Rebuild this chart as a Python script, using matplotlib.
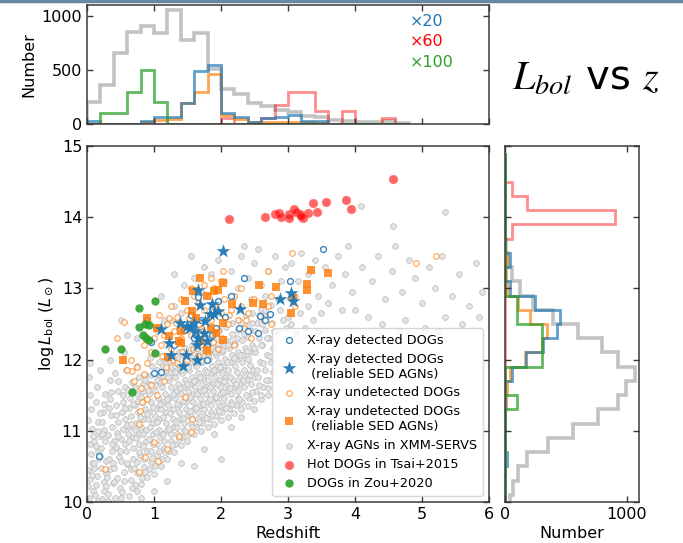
import numpy as np
import matplotlib
matplotlib.use('Agg')
import matplotlib.pyplot as plt
from matplotlib.lines import Line2D

# ---------------- data ----------------
# top histogram (redshift), bins of 0.2 from 0 to 4.8
z_edges = np.round(np.arange(0, 4.81, 0.2), 1)
zh_gray = [200, 357, 660, 850, 905, 845, 1055, 780, 840, 510, 326, 280, 192, 170, 130, 108, 77, 62, 37, 25, 16, 16, 25, 12]
zh_blue = [25, 0, 0, 0, 30, 68, 68, 190, 490, 545, 100, 68, 22, 55, 62, 87, 25, 25, 0, 0, 0, 0, 0, 0]
zh_orange = [0, 0, 0, 0, 22, 40, 50, 190, 295, 460, 80, 47, 22, 15, 15, 15, 15, 10, 0, 0, 0, 0, 0, 0]
zh_red = [0, 0, 0, 0, 0, 0, 0, 0, 0, 0, 60, 0, 0, 60, 180, 300, 300, 120, 0, 120, 0, 0, 60, 0]
zh_green = [0, 100, 100, 300, 500, 200, 0, 0, 0, 0, 0, 0, 0, 0, 0, 0, 0, 0, 0, 0, 0, 0, 0, 0]

# right histogram (log Lbol), bins of 0.2 from 9.9 to 14.9
L_edges = np.round(np.arange(9.9, 14.91, 0.2), 1)
Lh_gray = [41, 63, 110, 183, 356, 560, 766, 930, 990, 1068, 930, 795, 600, 390, 230, 123, 60, 27, 10, 0, 0, 0, 0, 0, 0]
Lh_blue = [0, 0, 0, 19, 0, 0, 0, 0, 0, 55, 172, 315, 425, 452, 246, 45, 0, 40, 0, 0, 0, 0, 0, 0, 0]
Lh_orange = [0, 0, 0, 0, 0, 0, 0, 12, 15, 40, 165, 301, 342, 205, 110, 19, 5, 16, 0, 0, 0, 0, 0, 0, 0]
Lh_red = [0, 0, 0, 0, 0, 0, 0, 0, 0, 0, 0, 0, 0, 0, 0, 0, 0, 0, 0, 60, 900, 180, 60, 0, 0]
Lh_green = [0, 0, 0, 0, 0, 0, 0, 100, 0, 0, 300, 300, 300, 100, 100, 0, 0, 0, 0, 0, 0, 0, 0, 0, 0]

# Hot DOGs in Tsai+2015
hot_z = [4.56, 2.12, 2.65, 2.80, 2.87, 2.89, 3.02, 3.02, 3.09, 3.12, 3.18, 3.22, 3.30, 3.38, 3.44, 3.57, 3.87, 3.94, 3.20]
hot_L = [14.53, 13.97, 14.00, 14.05, 14.06, 14.00, 14.04, 13.99, 14.12, 14.07, 14.04, 13.99, 14.06, 14.20, 14.07, 14.21, 14.24, 14.12, 14.02]

# DOGs in Zou+2020
zou_z = [0.27, 0.50, 0.67, 0.77, 1.01, 0.77, 0.87, 0.92, 0.84, 0.88, 0.92, 1.01]
zou_L = [12.15, 12.15, 11.55, 12.72, 12.83, 12.46, 12.50, 12.49, 12.34, 12.31, 12.28, 12.09]

# X-ray detected DOGs, reliable SED AGNs (stars)
star_z = [2.03, 1.66, 1.11, 1.23, 1.26, 1.44, 1.48, 1.64, 1.64, 1.39, 1.49, 1.59, 1.61, 1.69, 1.76, 1.86,
          1.89, 1.96, 2.28, 1.66, 1.74, 2.88, 3.04, 3.08, 1.54, 1.79, 1.83]
star_L = [13.52, 12.98, 12.43, 12.24, 12.07, 11.91, 12.07, 11.99, 12.20, 12.52, 12.47, 12.52, 12.40, 12.76, 12.54, 12.78,
          12.64, 12.68, 12.71, 12.31, 12.38, 12.85, 12.94, 12.82, 12.45, 12.26, 12.64]

# X-ray undetected DOGs, reliable SED AGNs (squares)
sq_z = [1.69, 2.03, 1.58, 1.46, 1.79, 1.89, 1.96, 1.56, 0.89, 1.05, 1.23, 1.41, 1.41, 1.21, 0.53, 1.79, 2.03,
        2.16, 2.48, 2.62, 2.56, 2.82, 3.05, 3.29, 3.29, 3.34, 3.60, 3.08, 1.62, 1.85, 1.92, 2.03, 1.37, 1.69]
sq_L = [13.15, 13.08, 12.96, 12.82, 12.90, 12.97, 12.98, 12.68, 12.59, 12.45, 12.33, 12.40, 12.24, 12.03, 12.00, 12.14, 12.27,
        12.78, 12.80, 12.78, 13.05, 13.02, 12.66, 13.06, 12.98, 13.26, 13.21, 12.87, 12.59, 12.45, 12.38, 12.52, 12.26, 12.26]

# X-ray detected DOGs (open blue circles)
det_z = [3.52, 2.35, 3.03, 2.73, 2.65, 2.58, 2.27, 2.06, 0.90, 1.10, 1.00, 0.18, 1.65, 1.96, 1.86, 1.79, 1.55, 1.70,
         1.45, 2.15, 1.92, 0.95, 1.30, 2.40, 1.60, 2.55]
det_L = [13.56, 13.15, 13.11, 12.64, 12.55, 12.61, 12.45, 12.60, 12.56, 11.82, 11.81, 10.64, 12.88, 12.83, 12.35, 12.00, 12.62, 12.55,
         12.42, 12.90, 12.45, 12.25, 12.20, 12.40, 12.30, 12.38]

# X-ray undetected DOGs (open orange circles)
und_z = [1.00, 1.05, 1.10, 1.15, 1.20, 1.25, 1.30, 1.35, 1.40, 1.45, 1.50, 1.55, 1.60, 1.65, 1.70, 1.75, 1.80, 1.85,
         1.90, 1.95, 2.00, 2.05, 2.10, 2.15, 2.20, 2.25, 2.30, 2.35, 2.40, 2.50, 2.60, 2.70, 2.75, 1.12, 1.28, 1.42,
         1.58, 1.72, 1.88, 2.02, 1.18, 1.35, 1.50, 1.65, 1.80, 1.95, 2.20, 2.45, 0.95, 0.90, 0.85, 1.55, 1.75, 2.00,
         1.40, 1.25, 2.30, 1.90, 1.60, 0.60, 0.70, 0.80, 0.90, 0.95, 1.05, 1.15, 0.85, 0.75, 0.65, 0.55, 0.45, 0.67,
         0.78, 0.79, 0.82, 1.47, 1.57, 1.55, 1.38, 1.19, 1.00, 0.87, 1.06, 0.77, 0.27, 2.03, 2.70, 3.06, 4.91, 5.21,
         2.75, 3.10, 1.85, 1.33, 1.52, 1.68, 1.83, 2.12, 2.38, 1.08, 1.22]
und_L = [12.30, 12.45, 12.20, 12.35, 12.50, 12.15, 12.40, 12.60, 12.30, 12.50, 12.70, 12.35, 12.60, 12.80, 12.45, 12.70, 12.90, 12.55,
         12.75, 12.40, 12.65, 12.85, 12.50, 12.70, 12.90, 12.55, 12.75, 12.45, 12.65, 12.85, 12.60, 12.75, 12.50, 12.05, 12.00, 12.10,
         12.15, 12.20, 12.25, 12.30, 11.90, 11.95, 12.00, 12.05, 12.10, 12.15, 12.20, 12.30, 12.10, 11.95, 12.20, 13.00, 13.05, 13.10,
         12.85, 12.75, 13.00, 13.00, 12.90, 11.85, 11.70, 11.60, 11.45, 11.65, 11.50, 11.70, 11.80, 11.90, 12.00, 12.53, 12.30, 11.84,
         11.10, 11.28, 11.40, 11.47, 11.16, 10.99, 10.92, 10.75, 10.84, 10.63, 10.58, 10.42, 10.46, 13.24, 13.24, 13.50, 13.36, 13.46,
         12.90, 12.75, 13.15, 12.52, 12.58, 12.42, 12.62, 12.62, 12.55, 12.62, 12.58]

# X-ray AGNs in XMM-SERVS (small grey circles), (z, logLbol)
xmm_agn = [
    (0.03, 10.05), (0.05, 10.32), (0.08, 10.55), (0.04, 10.82), (0.07, 11.02), (0.02, 10.45), (0.09, 10.15), (0.06, 11.30), (0.03, 11.75),
    (0.12, 10.10), (0.15, 10.37), (0.18, 10.62), (0.11, 10.85), (0.16, 11.12), (0.14, 10.24), (0.19, 10.93), (0.13, 11.40), (0.17, 10.71), (0.15, 11.62),
    (0.22, 10.04), (0.25, 10.28), (0.28, 10.57), (0.21, 10.76), (0.26, 11.01), (0.24, 11.27), (0.29, 10.41), (0.23, 10.96), (0.27, 11.52), (0.25, 10.16),
    (0.32, 10.11), (0.35, 10.46), (0.38, 10.72), (0.31, 10.94), (0.36, 11.22), (0.34, 11.44), (0.39, 10.26), (0.33, 10.61), (0.37, 11.06), (0.35, 11.71),
    (0.42, 10.06), (0.45, 10.34), (0.48, 10.63), (0.41, 10.86), (0.46, 11.12), (0.44, 11.36), (0.49, 10.19), (0.43, 10.77), (0.47, 11.56), (0.45, 10.97), (0.42, 11.81),
    (0.52, 10.14), (0.55, 10.42), (0.58, 10.71), (0.51, 10.89), (0.56, 11.16), (0.54, 11.41), (0.59, 10.54), (0.53, 11.02), (0.57, 11.61), (0.55, 10.29), (0.52, 11.26), (0.58, 11.86),
    (0.62, 10.09), (0.65, 10.46), (0.68, 10.76), (0.61, 10.96), (0.66, 11.21), (0.64, 11.46), (0.69, 10.61), (0.63, 11.06), (0.67, 11.69), (0.65, 10.31), (0.62, 11.32), (0.68, 10.91),
    (0.72, 10.24), (0.75, 10.56), (0.78, 10.81), (0.71, 11.01), (0.76, 11.26), (0.74, 11.51), (0.79, 10.66), (0.73, 11.11), (0.77, 11.76), (0.75, 10.41), (0.72, 11.36), (0.78, 10.96), (0.74, 11.91),
    (0.82, 10.34), (0.85, 10.61), (0.88, 10.86), (0.81, 11.06), (0.86, 11.31), (0.84, 11.56), (0.89, 10.71), (0.83, 11.16), (0.87, 11.79), (0.85, 10.49), (0.82, 11.41), (0.88, 11.01), (0.84, 11.66),
    (0.92, 10.46), (0.95, 10.71), (0.98, 10.96), (0.91, 11.16), (0.96, 11.41), (0.94, 11.66), (0.99, 10.81), (0.93, 11.26), (0.97, 11.91), (0.95, 10.56), (0.92, 11.51), (0.98, 11.11), (0.94, 12.02),
    (1.02, 10.51), (1.05, 10.81), (1.08, 11.01), (1.01, 11.21), (1.06, 11.46), (1.04, 11.71), (1.09, 10.91), (1.03, 11.31), (1.07, 11.96), (1.05, 10.66), (1.02, 11.56), (1.08, 11.16), (1.04, 11.86),
    (1.12, 10.61), (1.15, 10.86), (1.18, 11.11), (1.11, 11.31), (1.16, 11.51), (1.14, 11.76), (1.19, 11.01), (1.13, 11.41), (1.17, 12.01), (1.15, 10.76), (1.12, 11.61), (1.18, 11.26), (1.14, 11.91),
    (1.22, 10.71), (1.25, 10.96), (1.28, 11.16), (1.21, 11.36), (1.26, 11.61), (1.24, 11.81), (1.29, 11.06), (1.23, 11.46), (1.27, 12.06), (1.25, 10.86), (1.22, 11.71), (1.28, 11.31), (1.24, 11.96),
    (1.32, 10.81), (1.35, 11.06), (1.38, 11.26), (1.31, 11.46), (1.36, 11.66), (1.34, 11.86), (1.39, 11.16), (1.33, 11.56), (1.37, 12.11), (1.35, 10.96), (1.32, 11.76), (1.38, 11.36), (1.34, 12.01),
    (1.42, 10.91), (1.45, 11.11), (1.48, 11.31), (1.41, 11.51), (1.46, 11.71), (1.44, 11.91), (1.49, 11.21), (1.43, 11.61), (1.47, 12.16), (1.45, 11.01), (1.42, 11.81), (1.48, 11.41), (1.44, 12.06),
    (1.52, 10.96), (1.55, 11.21), (1.58, 11.41), (1.51, 11.56), (1.56, 11.76), (1.54, 11.96), (1.59, 11.31), (1.53, 11.66), (1.57, 12.21), (1.55, 11.11), (1.52, 11.86), (1.58, 11.51), (1.54, 12.11),
    (1.62, 11.06), (1.65, 11.26), (1.68, 11.46), (1.61, 11.61), (1.66, 11.81), (1.64, 12.01), (1.69, 11.36), (1.63, 11.71), (1.67, 12.26), (1.65, 11.16), (1.62, 11.91), (1.68, 11.56), (1.64, 12.16),
    (1.72, 11.11), (1.75, 11.31), (1.78, 11.51), (1.71, 11.66), (1.76, 11.86), (1.74, 12.06), (1.79, 11.41), (1.73, 11.76), (1.77, 12.31), (1.75, 11.21), (1.72, 11.96), (1.78, 11.61), (1.74, 12.21),
    (1.82, 11.16), (1.85, 11.36), (1.88, 11.56), (1.81, 11.71), (1.86, 11.91), (1.84, 12.11), (1.89, 11.46), (1.83, 11.81), (1.87, 12.36), (1.85, 11.26), (1.82, 12.01), (1.88, 11.66), (1.84, 12.26),
    (1.92, 11.21), (1.95, 11.41), (1.98, 11.61), (1.91, 11.76), (1.96, 11.96), (1.94, 12.16), (1.99, 11.51), (1.93, 11.86), (1.97, 12.41), (1.95, 11.31), (1.92, 12.06), (1.98, 11.71), (1.94, 12.31),
    (2.02, 11.26), (2.05, 11.46), (2.08, 11.66), (2.01, 11.81), (2.06, 12.01), (2.04, 12.21), (2.09, 11.56), (2.03, 11.91), (2.07, 12.46), (2.05, 11.36), (2.02, 12.11), (2.08, 11.76),
    (2.12, 11.31), (2.15, 11.51), (2.18, 11.71), (2.11, 11.86), (2.16, 12.06), (2.14, 12.26), (2.19, 11.61), (2.13, 11.96), (2.17, 12.51), (2.15, 11.41), (2.12, 12.16),
    (2.22, 11.36), (2.25, 11.56), (2.28, 11.76), (2.21, 11.91), (2.26, 12.11), (2.24, 12.31), (2.29, 11.66), (2.23, 12.01), (2.27, 12.56), (2.25, 11.46),
    (2.32, 11.41), (2.35, 11.61), (2.38, 11.81), (2.31, 11.96), (2.36, 12.16), (2.34, 12.36), (2.39, 11.71), (2.33, 12.06), (2.37, 12.61),
    (2.42, 11.46), (2.45, 11.66), (2.48, 11.86), (2.41, 12.01), (2.46, 12.21), (2.44, 12.41), (2.49, 11.76), (2.43, 12.11), (2.47, 12.66),
    (2.52, 11.56), (2.55, 11.76), (2.58, 11.96), (2.51, 12.11), (2.56, 12.31), (2.54, 12.51), (2.59, 12.71),
    (2.62, 11.61), (2.65, 11.86), (2.68, 12.06), (2.61, 12.21), (2.66, 12.41), (2.64, 12.61),
    (2.72, 11.71), (2.75, 11.96), (2.78, 12.16), (2.71, 12.31), (2.76, 12.51), (2.74, 12.76),
    (2.85, 12.40), (2.92, 12.55), (2.88, 12.70), (2.97, 12.45), (3.00, 12.60),
    (3.05, 12.50), (3.12, 12.38), (3.18, 12.65), (3.25, 12.45), (3.30, 12.75), (3.38, 12.55), (3.45, 12.40), (3.50, 12.65),
    (0.05, 11.95), (0.20, 11.85), (0.35, 12.00), (0.55, 12.10), (0.60, 12.35), (0.75, 12.30), (0.50, 12.55), (0.85, 12.50),
    (1.05, 12.40), (1.15, 12.55), (1.30, 12.75), (1.10, 12.90), (1.45, 13.05), (1.30, 13.20), (1.60, 13.15), (1.75, 13.30),
    (1.55, 13.45), (1.85, 13.20), (1.95, 13.40), (1.70, 12.95), (1.25, 12.55), (1.40, 12.65),
    (2.05, 13.10), (2.15, 13.25), (2.25, 13.00), (2.30, 13.45), (2.40, 13.15), (2.50, 13.35), (2.60, 13.05), (2.70, 13.25),
    (2.80, 13.45), (2.90, 13.10), (2.95, 13.30), (2.20, 12.90), (2.45, 12.85), (2.65, 12.90), (2.85, 12.85), (2.55, 13.55), (2.35, 13.60),
    (3.05, 13.35), (3.15, 13.10), (3.20, 13.50), (3.30, 13.20), (3.40, 13.40), (3.55, 13.30), (3.65, 13.05), (3.75, 13.45),
    (3.85, 13.20), (3.95, 12.95), (3.10, 12.90), (3.60, 12.80), (3.80, 12.70), (3.45, 12.90), (3.90, 13.60), (4.09, 14.16),
    (4.56, 13.87), (5.34, 14.08),
    (4.10, 13.30), (4.25, 13.10), (4.35, 13.45), (4.45, 12.85), (4.55, 13.25), (4.60, 13.60), (4.70, 12.95), (4.80, 13.40),
    (4.90, 13.15), (5.00, 12.80), (5.10, 13.30), (5.20, 13.00), (5.30, 13.45), (5.45, 12.90), (5.55, 13.20), (5.70, 12.75),
    (5.80, 13.35), (5.90, 12.95), (4.20, 12.60), (4.40, 12.50), (4.75, 12.55), (5.05, 12.45), (5.35, 12.60), (5.60, 12.50),
    (5.85, 12.60), (4.00, 12.70), (4.65, 12.40), (5.25, 12.40),
    (1.60, 10.50), (1.75, 10.75), (1.90, 10.95), (2.00, 10.60), (2.15, 11.05), (2.30, 11.20), (2.50, 11.30), (1.40, 10.55),
    (1.20, 10.30), (1.00, 10.15), (0.80, 10.05), (2.60, 11.45), (2.70, 11.50),
    # denser core
    (0.01, 10.22), (0.06, 10.68), (0.09, 10.92), (0.02, 11.15), (0.08, 10.38), (0.04, 11.50),
    (0.10, 10.48), (0.17, 10.02), (0.13, 10.78), (0.19, 11.25), (0.11, 10.55), (0.16, 11.00),
    (0.20, 10.65), (0.27, 10.85), (0.23, 11.12), (0.29, 10.22), (0.21, 10.48), (0.26, 11.38),
    (0.30, 10.35), (0.37, 10.82), (0.33, 11.32), (0.39, 10.55), (0.31, 10.02), (0.36, 11.55),
    (0.40, 10.48), (0.47, 10.92), (0.43, 11.22), (0.49, 10.72), (0.41, 10.28), (0.46, 11.70),
    (0.50, 10.58), (0.57, 10.82), (0.53, 11.50), (0.59, 11.08), (0.51, 10.05), (0.56, 11.32),
    (0.60, 10.55), (0.67, 10.20), (0.63, 10.85), (0.69, 11.38), (0.61, 11.58), (0.66, 11.10),
    (0.70, 10.48), (0.77, 10.70), (0.73, 10.90), (0.79, 11.20), (0.71, 11.62), (0.76, 11.42), (0.74, 10.15),
    (0.80, 10.25), (0.87, 10.42), (0.83, 10.96), (0.89, 11.24), (0.81, 11.48), (0.86, 11.72), (0.84, 10.78),
    (0.90, 10.35), (0.97, 10.62), (0.93, 10.88), (0.99, 11.34), (0.91, 11.58), (0.96, 11.78), (0.94, 11.05),
    (1.00, 10.40), (1.07, 10.72), (1.03, 10.98), (1.09, 11.38), (1.01, 11.64), (1.06, 11.80), (1.04, 11.12),
    (1.10, 10.50), (1.17, 10.70), (1.13, 10.95), (1.19, 11.45), (1.11, 11.68), (1.16, 11.84), (1.14, 11.20),
    (1.20, 10.60), (1.27, 10.80), (1.23, 11.02), (1.29, 11.52), (1.21, 11.75), (1.26, 11.90), (1.24, 11.25),
    (1.30, 10.70), (1.37, 10.90), (1.33, 11.12), (1.39, 11.60), (1.31, 11.82), (1.36, 11.94), (1.34, 11.38),
    (1.40, 10.80), (1.47, 11.00), (1.43, 11.18), (1.49, 11.66), (1.41, 11.86), (1.46, 11.98), (1.44, 11.42),
    (1.50, 10.85), (1.57, 11.05), (1.53, 11.28), (1.59, 11.70), (1.51, 11.90), (1.56, 12.02), (1.54, 11.48),
    (1.60, 10.95), (1.67, 11.12), (1.63, 11.32), (1.69, 11.76), (1.61, 11.96), (1.66, 12.08), (1.64, 11.52),
    (1.70, 11.00), (1.77, 11.18), (1.73, 11.38), (1.79, 11.82), (1.71, 12.00), (1.76, 12.12), (1.74, 11.58),
    (1.80, 11.05), (1.87, 11.22), (1.83, 11.44), (1.89, 11.86), (1.81, 12.04), (1.86, 12.16), (1.84, 11.62),
    (1.90, 11.10), (1.97, 11.28), (1.93, 11.48), (1.99, 11.90), (1.91, 12.10), (1.96, 12.22), (1.94, 11.66),
    (2.00, 11.15), (2.07, 11.32), (2.03, 11.54), (2.09, 11.96), (2.01, 12.14), (2.06, 12.28), (2.04, 11.70),
    (2.10, 11.20), (2.17, 11.38), (2.13, 11.60), (2.19, 12.02), (2.11, 12.20), (2.16, 12.36), (2.14, 11.76),
    (2.20, 11.25), (2.27, 11.44), (2.23, 11.66), (2.29, 12.06), (2.21, 12.22), (2.26, 12.42), (2.24, 11.82),
    (2.30, 11.30), (2.37, 11.50), (2.33, 11.72), (2.39, 12.12), (2.31, 12.28), (2.36, 12.48), (2.34, 11.86),
    (2.40, 11.35), (2.47, 11.55), (2.43, 11.78), (2.49, 12.16), (2.41, 12.32), (2.46, 12.52), (2.44, 11.92),
    (2.50, 11.42), (2.57, 11.65), (2.53, 11.86), (2.59, 12.20), (2.51, 12.40), (2.56, 12.62),
    (2.60, 11.50), (2.67, 11.72), (2.63, 11.95), (2.69, 12.30), (2.61, 12.50), (2.66, 12.70),
    (2.70, 11.60), (2.77, 11.82), (2.73, 12.05), (2.79, 12.40), (2.71, 12.62),
]

# ---------------- figure ----------------
plt.rcParams['font.family'] = ['DejaVu Sans']
W, H = 683, 543
fig = plt.figure(figsize=(W / 100, H / 100), dpi=100)

ax = fig.add_axes([87 / W, 1 - 502 / H, 402 / W, 356 / H])
axt = fig.add_axes([87 / W, 1 - 124 / H, 402 / W, 119 / H])
axr = fig.add_axes([505 / W, 1 - 502 / H, 134 / W, 356 / H])

spine_c = '#3a3a3a'
for a in (ax, axt, axr):
    for s in a.spines.values():
        s.set_color(spine_c)
        s.set_linewidth(1.1)
    a.tick_params(direction='in', top=True, right=True, length=4, width=1,
                  color=spine_c, labelsize=11.5)

C0, C1, C2 = '#1f77b4', '#ff7f0e', '#2ca02c'

# main scatter
xa = np.array(xmm_agn)
h_gray = ax.scatter(xa[:, 0], xa[:, 1], s=17, facecolor='#e4e4e4', edgecolor='#b8b8b8',
                    linewidth=0.5, zorder=1, label='X-ray AGNs in XMM-SERVS')
h_und = ax.scatter(und_z, und_L, s=16, facecolor='white', edgecolor=C1, linewidth=0.8,
                   alpha=0.75, zorder=2, label='X-ray undetected DOGs')
h_det = ax.scatter(det_z, det_L, s=18, facecolor='white', edgecolor=C0, linewidth=1.0,
                   alpha=0.9, zorder=3, label='X-ray detected DOGs')
h_sq = ax.scatter(sq_z, sq_L, s=38, marker='s', color=C1, alpha=0.85, linewidth=0,
                  zorder=4, label='X-ray undetected DOGs\n (reliable SED AGNs)')
h_star = ax.scatter(star_z, star_L, s=110, marker='*', color=C0, alpha=0.95, linewidth=0,
                    zorder=5, label='X-ray detected DOGs\n (reliable SED AGNs)')
h_hot = ax.scatter(hot_z, hot_L, s=40, color='red', alpha=0.6, linewidth=0.5,
                   edgecolor='#ff8080', zorder=5, label='Hot DOGs in Tsai+2015')
h_zou = ax.scatter(zou_z, zou_L, s=36, color=C2, alpha=0.9, linewidth=0,
                   zorder=6, label='DOGs in Zou+2020')

ax.set_xlim(0, 6)
ax.set_ylim(10, 15)
ax.set_xticks([0, 1, 2, 3, 4, 5, 6])
ax.set_yticks([10, 11, 12, 13, 14, 15])
ax.set_xlabel('Redshift', fontsize=11.5, labelpad=3)
ax.set_ylabel(r'log$\,L_{\rm bol}$ ($L_\odot$)', fontsize=11.5, labelpad=4)

leg = ax.legend(handles=[h_det, h_star, h_und, h_sq, h_gray, h_hot, h_zou],
                loc='lower right', fontsize=9.3, framealpha=0.8, edgecolor='#cccccc',
                handletextpad=0.6, labelspacing=0.45, borderpad=0.45, handlelength=1.6,
                borderaxespad=0.5)
leg.set_zorder(10)

# top histogram
hist_lw = 2.0
axt.stairs(zh_gray, z_edges, color='#b8b8b8', lw=2.6, alpha=0.85)
axt.stairs(zh_red, z_edges, color='red', lw=hist_lw, alpha=0.45)
axt.stairs(zh_orange, z_edges, color=C1, lw=hist_lw, alpha=0.7)
axt.stairs(zh_blue, z_edges, color=C0, lw=hist_lw, alpha=0.7)
axt.stairs(zh_green, z_edges, color=C2, lw=hist_lw, alpha=0.75)
axt.set_xlim(0, 6)
axt.set_ylim(0, 1100)
axt.set_xticks([0, 1, 2, 3, 4, 5, 6])
axt.set_xticklabels([])
axt.set_yticks([0, 500, 1000])
axt.set_ylabel('Number', fontsize=11.5, labelpad=4)
axt.text(4.82, 944, '×20', color=C0, fontsize=11.5, va='center', ha='left')
axt.text(4.82, 758, '×60', color='red', fontsize=11.5, va='center', ha='left')
axt.text(4.82, 571, '×100', color=C2, fontsize=11.5, va='center', ha='left')

# right histogram
axr.stairs(Lh_gray, L_edges, orientation='horizontal', color='#b8b8b8', lw=2.6, alpha=0.85)
axr.stairs(Lh_red, L_edges, orientation='horizontal', color='red', lw=hist_lw, alpha=0.45)
axr.stairs(Lh_orange, L_edges, orientation='horizontal', color=C1, lw=hist_lw, alpha=0.7)
axr.stairs(Lh_blue, L_edges, orientation='horizontal', color=C0, lw=hist_lw, alpha=0.7)
axr.stairs(Lh_green, L_edges, orientation='horizontal', color=C2, lw=hist_lw, alpha=0.75)
axr.set_ylim(10, 15)
axr.set_xlim(0, 1100)
axr.set_xticks([0, 1000])
axr.set_yticks([10, 11, 12, 13, 14, 15])
axr.set_yticklabels([])
axr.set_xlabel('Number', fontsize=11.5, labelpad=3)

# title-like annotation
fig.text(586 / W, 1 - 90 / H, r'$L_{bol}$ vs $z$', fontsize=29, ha='center', va='baseline',
         math_fontfamily='stix')

# thin band at the top edge
fig.add_artist(Line2D([0, 1], [0.998, 0.998], color='#6a88a3', lw=2.5, transform=fig.transFigure))

fig.savefig('out.png', dpi=100)
